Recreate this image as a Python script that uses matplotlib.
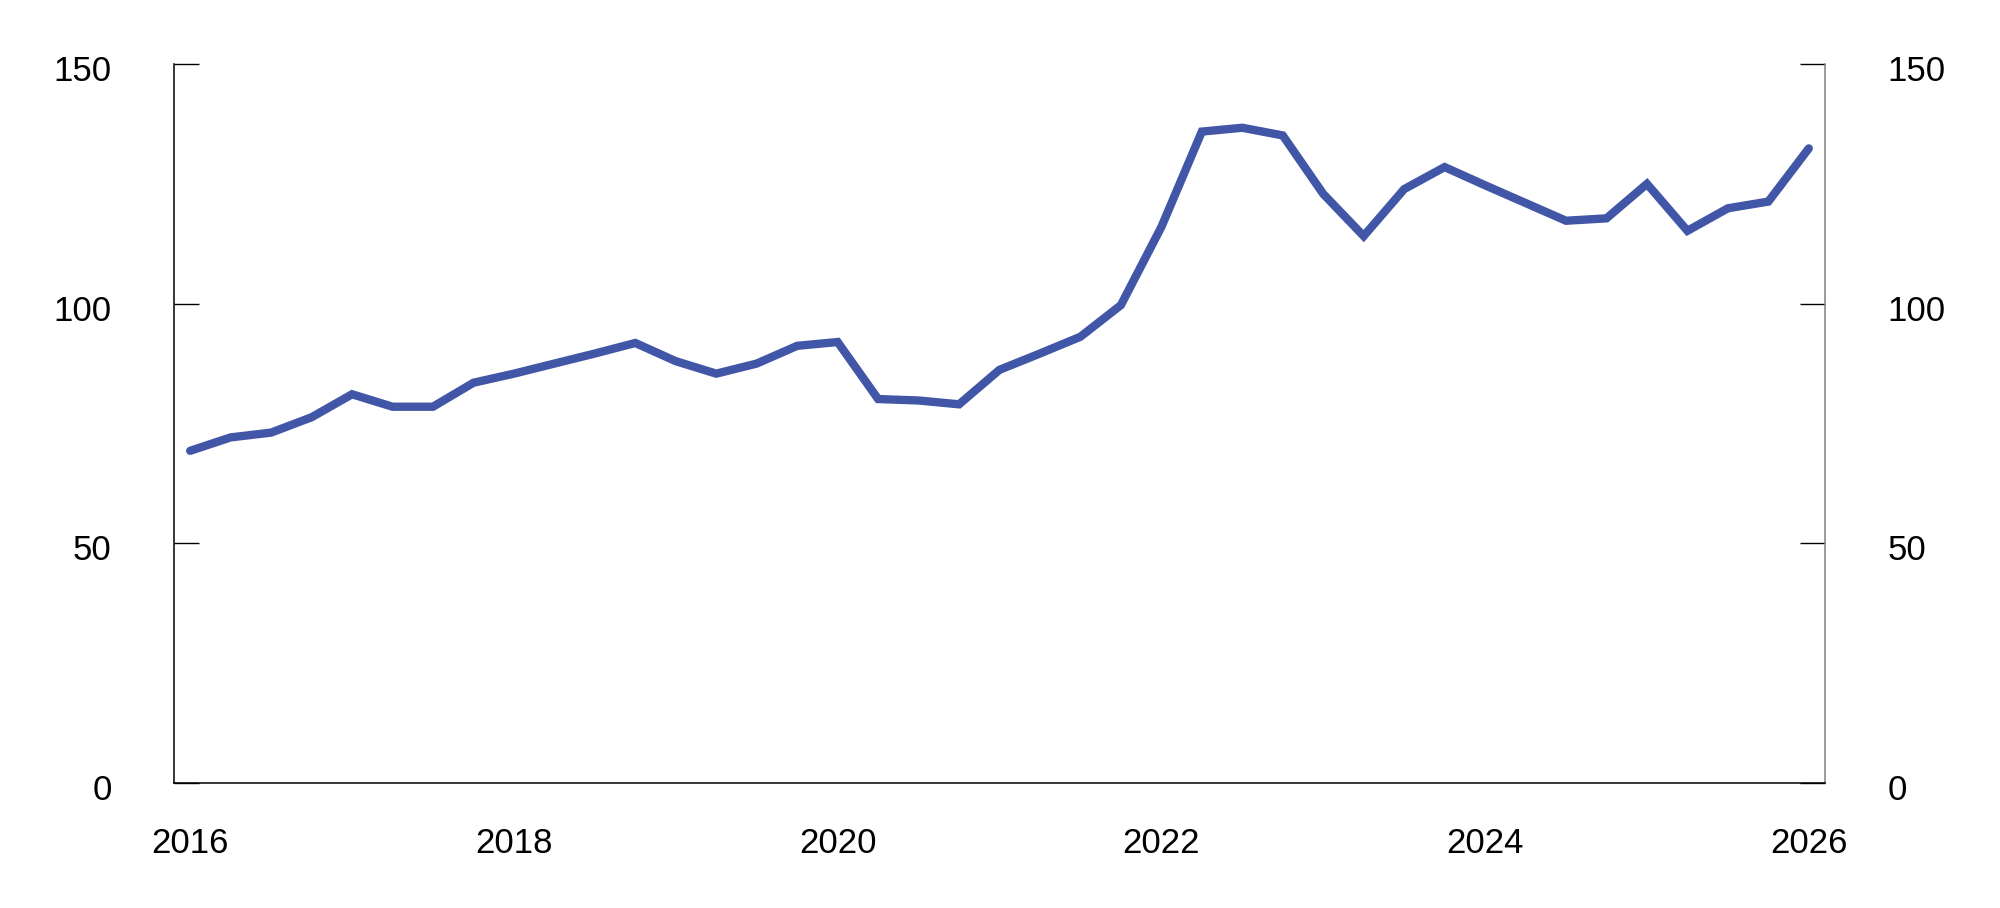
import matplotlib
matplotlib.use("Agg")
from matplotlib import pyplot as plt
from matplotlib.transforms import ScaledTranslation

plt.rcParams['font.family'] = ['Liberation Sans', 'DejaVu Sans']

# quarterly observations, 2016Q1 - 2026Q1
quarters = [2016 + i * 0.25 for i in range(41)]
values = [
    69.3, 72.1, 73.1, 76.3, 81.1, 78.5, 78.5, 83.5,
    85.4, 87.5, 89.6, 91.8, 88.0, 85.4, 87.5, 91.2,
    92.0, 80.1, 79.8, 79.0, 86.2, 89.6, 93.1, 99.7,
    116.0, 135.9, 136.7, 135.1, 122.9, 114.1, 123.9, 128.5,
    124.7, 121.0, 117.3, 117.8, 125.0, 115.2, 119.9, 121.3,
    132.4,
]
year_ticks = [2016, 2018, 2020, 2022, 2024, 2026]
y_ticks = [0, 50, 100, 150]

fig = plt.figure(figsize=(20, 9.08), dpi=100)
ax = fig.add_axes([0.087, 0.1377, 0.8255, 0.7918])

ax.plot(quarters, values, color='#4156a7', linewidth=6, solid_capstyle='round',
        solid_joinstyle='miter')

ax.set_xlim(2015.9, 2026.1)
ax.set_ylim(0, 150)
ax.set_xticks(year_ticks)
ax.set_xticklabels([str(y) for y in year_ticks])
ax.set_yticks(y_ticks)

ax.tick_params(axis='x', length=0, pad=32, labelsize=25)
ax.tick_params(axis='y', direction='in', length=18, width=1, pad=45, labelsize=25,
               left=True, right=True, labelleft=True, labelright=True)

ax.spines['top'].set_visible(False)
ax.spines['left'].set_color('black')
ax.spines['bottom'].set_color('black')
ax.spines['right'].set_color('#808080')
for s in ['left', 'bottom', 'right']:
    ax.spines[s].set_linewidth(1.1)

# y labels sit a little below their tick
shift = ScaledTranslation(0, -4 / 100, fig.dpi_scale_trans)
for t in ax.yaxis.get_major_ticks():
    t.label1.set_transform(t.label1.get_transform() + shift)
    t.label2.set_transform(t.label2.get_transform() + shift)

plt.savefig('out.png', dpi=100)
